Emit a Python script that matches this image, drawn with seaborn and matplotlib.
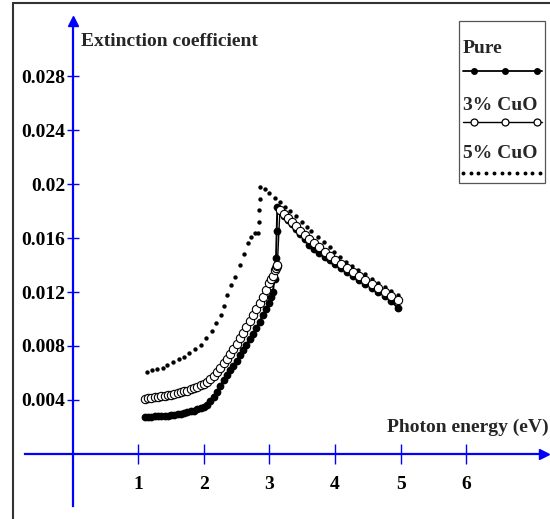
import matplotlib
matplotlib.use("Agg")
import matplotlib.pyplot as plt
import seaborn as sns
from matplotlib.lines import Line2D
from matplotlib.patches import Rectangle

# photon energy (eV) shared by the pure and 3% CuO films
energy = [1.10, 1.15, 1.20, 1.25, 1.30, 1.35, 1.40, 1.45, 1.50, 1.55,
          1.60, 1.65, 1.70, 1.75, 1.80, 1.85, 1.90, 1.95, 2.00, 2.05,
          2.10, 2.15, 2.20, 2.25, 2.30, 2.35, 2.40, 2.45, 2.50, 2.55,
          2.60, 2.65, 2.70, 2.75, 2.80, 2.85, 2.90, 2.95, 3.00, 3.03,
          3.05, 3.08, 3.10, 3.11, 3.12, 3.16, 3.22, 3.28, 3.34, 3.40,
          3.47, 3.54, 3.61, 3.68, 3.76, 3.84, 3.92, 4.00, 4.09, 4.18,
          4.27, 4.36, 4.46, 4.56, 4.66, 4.76, 4.86, 4.96]

k_pure = [0.00275, 0.00276, 0.00277, 0.00278, 0.00279, 0.00281, 0.00283, 0.00285, 0.00288, 0.00291,
          0.00295, 0.00299, 0.00304, 0.00309, 0.00315, 0.00322, 0.00330, 0.00339, 0.00350, 0.00365,
          0.00390, 0.00422, 0.00460, 0.00505, 0.00550, 0.00585, 0.00620, 0.00655, 0.00690, 0.00730,
          0.00770, 0.00810, 0.00850, 0.00890, 0.00935, 0.00980, 0.01030, 0.01075, 0.01120, 0.01160,
          0.01200, 0.01300, 0.01450, 0.01650, 0.01830, 0.01800, 0.01760, 0.01730, 0.01705, 0.01670,
          0.01630, 0.01590, 0.01550, 0.01520, 0.01490, 0.01460, 0.01440, 0.01410, 0.01380, 0.01350,
          0.01320, 0.01290, 0.01260, 0.01230, 0.01200, 0.01170, 0.01130, 0.01080]

k_cuo3 = [0.00410, 0.00413, 0.00416, 0.00419, 0.00422, 0.00426, 0.00430, 0.00434, 0.00439, 0.00444,
          0.00450, 0.00456, 0.00463, 0.00470, 0.00478, 0.00487, 0.00497, 0.00508, 0.00520, 0.00535,
          0.00555, 0.00580, 0.00610, 0.00640, 0.00672, 0.00705, 0.00740, 0.00778, 0.00816, 0.00856,
          0.00897, 0.00940, 0.00985, 0.01030, 0.01075, 0.01120, 0.01165, 0.01215, 0.01265, 0.01300,
          0.01320, 0.01360, 0.01380, 0.01390, 0.01400, 0.01810, 0.01780, 0.01750, 0.01720, 0.01690,
          0.01650, 0.01620, 0.01590, 0.01560, 0.01530, 0.01500, 0.01470, 0.01440, 0.01410, 0.01380,
          0.01350, 0.01320, 0.01290, 0.01260, 0.01230, 0.01200, 0.01170, 0.01140]

# 5% CuO film has its own sampling
energy_5 = [1.13, 1.21, 1.29, 1.37, 1.44, 1.53, 1.62, 1.70, 1.78, 1.87,
            1.96, 2.04, 2.12, 2.18, 2.26, 2.31, 2.36, 2.42, 2.48, 2.55,
            2.61, 2.67, 2.72, 2.78, 2.83, 2.84, 2.84, 2.85, 2.86, 2.93,
            3.00, 3.08, 3.16, 3.24, 3.31, 3.40, 3.49, 3.57, 3.64, 3.74,
            3.83, 3.92, 3.99, 4.07, 4.16, 4.26, 4.35, 4.45, 4.56, 4.66,
            4.76, 4.86, 4.96]
k_cuo5 = [0.0061, 0.0062, 0.0063, 0.0064, 0.0066, 0.0068, 0.0070, 0.0072, 0.0075, 0.0078,
          0.0081, 0.0086, 0.0091, 0.0097, 0.0103, 0.0110, 0.0118, 0.0125, 0.0131, 0.0140,
          0.0148, 0.0156, 0.0161, 0.0164, 0.0164, 0.0172, 0.0181, 0.0189, 0.0198, 0.0196,
          0.0193, 0.0190, 0.0187, 0.0183, 0.0180, 0.0176, 0.0172, 0.0168, 0.0165, 0.0161,
          0.0157, 0.0153, 0.0150, 0.0146, 0.0142, 0.0139, 0.0136, 0.0133, 0.0130, 0.0127,
          0.0124, 0.0121, 0.0118]

x_ticks = [1, 2, 3, 4, 5, 6]
y_ticks = [0.004, 0.008, 0.012, 0.016, 0.02, 0.024, 0.028]
y_tick_labels = ["0.004", "0.008", "0.012", "0.016", "0.02", "0.024", "0.028"]

sns.set_style("white")
plt.rcParams["font.family"] = ["Liberation Serif", "DejaVu Serif"]
plt.rcParams["font.weight"] = "bold"

W, H = 550, 519

def fx(px):
    return px / W

def fy(py):
    return 1 - py / H

fig = plt.figure(figsize=(5.5, 5.19), dpi=100)
ax = fig.add_axes([0, 0, 1, 1])
ax.set_facecolor("none")
ax.set_xlim(-1.108, 7.277)
ax.set_ylim(-0.004815, 0.03363)

# curves
sns.lineplot(x=energy, y=k_pure, ax=ax, color="black", lw=1.4, marker="o",
             markersize=5.6, markeredgewidth=0, sort=False, estimator=None)
sns.lineplot(x=energy, y=k_cuo3, ax=ax, color="black", lw=1.0, marker="o",
             markersize=6, markerfacecolor="white", markeredgecolor="black",
             markeredgewidth=0.8, sort=False, estimator=None)
sns.scatterplot(x=energy_5, y=k_cuo5, ax=ax, color="black", s=10, linewidth=0)

# axes through the origin, blue with arrow heads
for side in ["top", "right"]:
    ax.spines[side].set_visible(False)
ax.spines["left"].set_position(("data", 0))
ax.spines["bottom"].set_position(("data", 0))
for side in ["left", "bottom"]:
    ax.spines[side].set_color("blue")
    ax.spines[side].set_linewidth(1.6)
    ax.spines[side].set_visible(True)
ax.spines["left"].set_bounds(-0.00385, 0.0321)
ax.spines["bottom"].set_bounds(-0.73, 7.19)
ax.plot(7.19, 0, marker=">", color="blue", ms=7, clip_on=False)
ax.plot(0, 0.0321, marker="^", color="blue", ms=7, clip_on=False)

ax.set_xticks(x_ticks)
ax.set_xticklabels([str(t) for t in x_ticks], fontsize=14, fontweight="bold")
ax.set_yticks(y_ticks)
ax.set_yticklabels(y_tick_labels, fontsize=14, fontweight="bold")
ax.tick_params(axis="x", direction="inout", length=14, width=1, color="blue",
               labelcolor="black", pad=9, bottom=True)
ax.tick_params(axis="y", direction="inout", length=9, width=1, color="blue",
               labelcolor="black", pad=1, left=True)
ax.set_xlabel("")
ax.set_ylabel("")
ax.grid(False)

fig.text(fx(81), fy(46), "Extinction coefficient", fontsize=14, fontweight="bold",
         ha="left", va="baseline")
fig.text(fx(387), fy(432), "Photon energy (eV)", fontsize=14, fontweight="bold",
         ha="left", va="baseline")

# legend box drawn by hand (labels sit above their samples)
fig.add_artist(Rectangle((fx(459), fy(183)), fx(545) - fx(459), fy(21) - fy(183),
                         transform=fig.transFigure, fill=False, edgecolor="#555555", lw=0.9))
fig.text(fx(463), fy(53), "Pure", fontsize=14, fontweight="bold", va="baseline")
fig.text(fx(463), fy(110), "3% CuO", fontsize=14, fontweight="bold", va="baseline")
fig.text(fx(463), fy(158), "5% CuO", fontsize=14, fontweight="bold", va="baseline")

fig.add_artist(Line2D([fx(463), fx(542)], [fy(71), fy(71)], color="black", lw=1.3))
fig.add_artist(Line2D([fx(474), fx(505), fx(537)], [fy(71)] * 3, ls="none", marker="o",
                      ms=5, color="black", markeredgewidth=0))
fig.add_artist(Line2D([fx(463), fx(542)], [fy(122), fy(122)], color="black", lw=1.0))
fig.add_artist(Line2D([fx(474), fx(505), fx(537)], [fy(122)] * 3, ls="none", marker="o",
                      ms=5, markerfacecolor="white", markeredgecolor="black",
                      markeredgewidth=0.9))
fig.add_artist(Line2D([fx(463 + 7.7 * i) for i in range(11)], [fy(173)] * 11, ls="none",
                      marker="o", ms=2.8, color="black", markeredgewidth=0))

# picture frame (left and top edges)
fig.add_artist(Line2D([fx(13.3), fx(13.3)], [0, fy(2.7)], color="#333333", lw=1.5))
fig.add_artist(Line2D([fx(13.3), 1], [fy(2.7), fy(2.7)], color="#333333", lw=1.5))

fig.savefig("out.png", dpi=100)
